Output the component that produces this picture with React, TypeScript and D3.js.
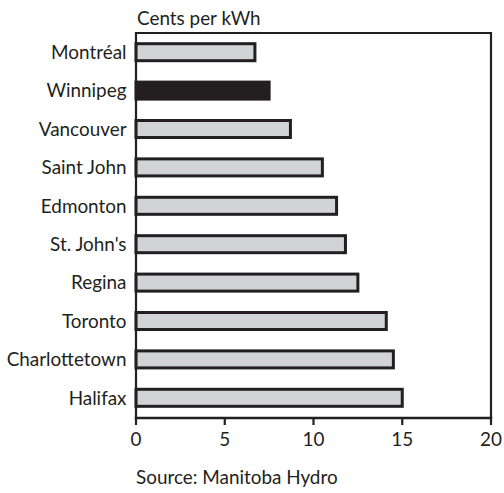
import React from "react";
import * as d3 from "d3";

const cities = ["Montréal", "Winnipeg", "Vancouver", "Saint John", "Edmonton", "St. John's", "Regina", "Toronto", "Charlottetown", "Halifax"];
const cents = [6.7, 7.5, 8.7, 10.5, 11.3, 11.8, 12.5, 14.1, 14.5, 15.0];
const highlight = ["Winnipeg"];
const xTicks = [0, 5, 10, 15, 20];
const title = "Cents per kWh";
const source = "Source: Manitoba Hydro";

const W = 504, H = 493;
const left = 136, right = 491, top = 33, bottom = 417;
const font = "Lato, sans-serif";
const fs = 20;
const sx = 0.945;
const ink = "#231f20";

function T({ x, y, anchor = "start", children }: { x: number; y: number; anchor?: string; children: React.ReactNode }) {
  return (
    <g transform={`translate(${x},${y}) scale(${sx},1)`}>
      <text textAnchor={anchor} fontFamily={font} fontSize={fs} fill={ink}>{children}</text>
    </g>
  );
}

export default function App() {
  const x = d3.scaleLinear().domain([0, 20]).range([left, right]);
  const y = d3.scaleBand<string>().domain(cities).range([top, bottom]).paddingInner(0.557).paddingOuter(0.2785);
  const bw = y.bandwidth();
  return (
    <svg width={W} height={H} style={{ position: "absolute", left: 0, top: 0, background: "#fff" }}>
      <T x={137} y={24.5}>{title}</T>
      {cities.map((c, i) => (
        <g key={c}>
          <rect x={x(0)} y={y(c)!} width={x(cents[i]) - x(0)} height={bw}
            fill={highlight.includes(c) ? ink : "#d1d3d4"} stroke={ink} strokeWidth={3} />
          <T x={126.5} y={y(c)! + bw / 2 + 6.8} anchor="end">{c}</T>
        </g>
      ))}
      <path d={`M${left},${bottom}V${top}H${right}V${bottom}`} fill="none" stroke={ink} strokeWidth={2.2} />
      <line x1={left - 1.2} x2={right + 1.2} y1={bottom + 1} y2={bottom + 1} stroke={ink} strokeWidth={2.5} />
      {xTicks.map(t => (
        <g key={t}>
          <line x1={x(t)} x2={x(t)} y1={bottom} y2={bottom + 8} stroke={ink} strokeWidth={2.2} />
          <T x={x(t)} y={446} anchor="middle">{t}</T>
        </g>
      ))}
      <T x={136} y={484}>{source}</T>
    </svg>
  );
}
